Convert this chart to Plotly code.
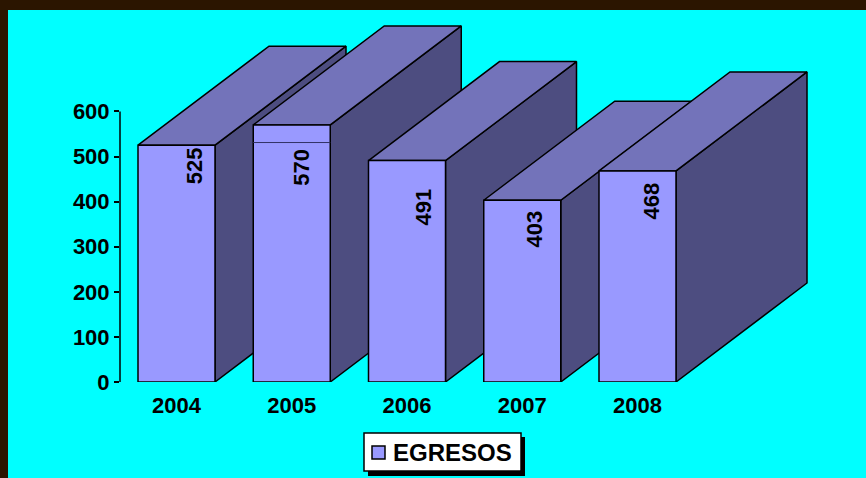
import plotly.graph_objects as go

years = ["2004", "2005", "2006", "2007", "2008"]
egresos = [525, 570, 491, 403, 468]
y_ticks = [0, 100, 200, 300, 400, 500, 600]
legend_name = "EGRESOS"
inner_line_year = "2005"
inner_line_value = 531

W, H = 866, 478
ml, mr, mt, mb = 120, 0, 10, 96
px_per_unit = 0.451
px_per_cat = 115.25
first_center = 176.5
bar_w = 77 / px_per_cat
dep_x = 131 / px_per_cat
dep_y = 99 / px_per_unit
xr = [(ml - first_center) / px_per_cat, (W - first_center) / px_per_cat]
yr = [0, (H - mt - mb) / px_per_unit]

FRONT, SIDE, TOP = "#9999FF", "#4D4D80", "#7373BA"
label_shift = [(17.5, 21), (10, 42), (17, 47), (12, 29), (14, 30)]

fig = go.Figure()


def face(xs, ys, color):
    fig.add_trace(go.Scatter(
        x=xs + xs[:1], y=ys + ys[:1], mode="lines", fill="toself",
        fillcolor=color, line=dict(color="black", width=1.5),
        showlegend=False, hoverinfo="skip"))


for i, (yr_name, v) in enumerate(zip(years, egresos)):
    l, r = i - bar_w / 2, i + bar_w / 2
    face([r, r + dep_x, r + dep_x, r], [0, dep_y, v + dep_y, v], SIDE)
    face([l, r, r + dep_x, l + dep_x], [v, v, v + dep_y, v + dep_y], TOP)
    face([l, r, r, l], [0, 0, v, v], FRONT)
    if yr_name == inner_line_year:
        fig.add_trace(go.Scatter(x=[l, r], y=[inner_line_value] * 2, mode="lines",
                                 line=dict(color="#333366", width=1),
                                 showlegend=False, hoverinfo="skip"))

for i, v in enumerate(egresos):
    fig.add_annotation(x=i, y=v, text=str(v), textangle=-90, showarrow=False,
                       xshift=label_shift[i][0], yshift=-label_shift[i][1],
                       font=dict(family="Liberation Sans", size=22, color="black", weight="bold"))

plot_w = W - ml - mr
plot_h = H - mt - mb
px = lambda p: (p - ml) / plot_w
py = lambda p: (H - mb - p) / plot_h
BROWN = "#2B1500"


def box(x0, y0, x1, y1, fill, line=0):
    return dict(type="rect", xref="paper", yref="paper", x0=px(x0), x1=px(x1), y0=py(y0), y1=py(y1),
                fillcolor=fill, line=dict(color="black", width=line), layer="above")


shapes = [
    box(0, 0, W, 10, BROWN),
    box(0, 0, 8, H + 2, BROWN),
    dict(type="line", xref="paper", yref="y", x0=0, x1=0, y0=0, y1=600,
         line=dict(color="black", width=1.5)),
    box(368, 437, 525, 476, "black"),
    box(364, 433, 521, 471, "white", 1.5),
    box(372, 446, 385, 459, FRONT, 1.5),
]
fig.add_annotation(xref="paper", yref="paper", x=px(452.5), y=py(452), text=legend_name,
                   xanchor="center", yanchor="middle",
                   showarrow=False, font=dict(family="Liberation Sans", size=24, color="black", weight="bold"))

fig.update_layout(
    width=W, height=H, autosize=False, showlegend=False,
    margin=dict(l=ml, r=mr, t=mt, b=mb),
    paper_bgcolor="#00FFFF", plot_bgcolor="rgba(0,0,0,0)",
    shapes=shapes,
    font=dict(family="Liberation Sans", color="black"),
    xaxis=dict(range=xr, tickvals=list(range(len(years))), ticktext=years,
               showgrid=False, zeroline=False, showline=False,
               ticks="outside", ticklen=4, tickcolor="rgba(0,0,0,0)",
               tickfont=dict(size=22, weight="bold"), fixedrange=True),
    yaxis=dict(range=yr, tickvals=y_ticks, showgrid=False, zeroline=False, showline=False,
               ticks="outside", ticklen=5, tickwidth=1.5, tickcolor="black",
               tickfont=dict(size=22, weight="bold"), fixedrange=True),
)
fig.write_html("out.html", config={"displayModeBar": False},
               post_script="document.body.style.margin='0';document.body.style.overflow='hidden';")
